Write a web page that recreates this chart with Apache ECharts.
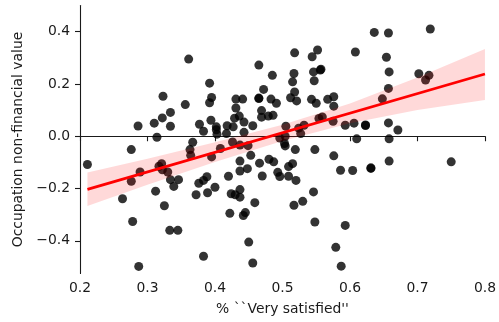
<!DOCTYPE html>
<html>
<head>
<meta charset="utf-8">
<script src="https://cdn.jsdelivr.net/npm/echarts@6/dist/echarts.min.js"></script>
<style>
  html, body { margin: 0; padding: 0; background: #fff; }
  #chart { width: 499px; height: 322px; }
</style>
</head>
<body>
<div id="chart"></div>
<script>
// scatter points
const pointsX = [
  0.361, 0.392, 0.323, 0.395, 0.392, 0.356, 0.334, 0.322, 0.310, 0.286,
  0.334, 0.377, 0.394, 0.383, 0.314, 0.367, 0.518, 0.552, 0.544, 0.465,
  0.485, 0.517, 0.515, 0.546, 0.556, 0.547, 0.472, 0.518, 0.431, 0.441,
  0.465, 0.483, 0.512, 0.521, 0.543, 0.567, 0.576, 0.491, 0.550, 0.576,
  0.431, 0.469, 0.429, 0.436, 0.443, 0.469, 0.479, 0.486, 0.402, 0.418,
  0.427, 0.456, 0.443, 0.403, 0.417, 0.505, 0.524, 0.527, 0.532, 0.504,
  0.554, 0.559, 0.575, 0.593, 0.503, 0.426, 0.636, 0.657, 0.719, 0.608,
  0.654, 0.658, 0.702, 0.717, 0.712, 0.657, 0.648, 0.606, 0.623, 0.657,
  0.671, 0.610, 0.658, 0.211, 0.276, 0.363, 0.364, 0.289, 0.276, 0.317,
  0.321, 0.322, 0.330, 0.334, 0.346, 0.339, 0.312, 0.263, 0.325, 0.376,
  0.383, 0.388, 0.372, 0.389, 0.395, 0.400, 0.278, 0.333, 0.345, 0.383,
  0.287, 0.408, 0.437, 0.449, 0.453, 0.437, 0.466, 0.480, 0.487, 0.420,
  0.437, 0.448, 0.470, 0.493, 0.496, 0.509, 0.515, 0.509, 0.520, 0.424,
  0.430, 0.437, 0.437, 0.459, 0.546, 0.530, 0.517, 0.422, 0.442, 0.445,
  0.548, 0.593, 0.450, 0.579, 0.456, 0.587, 0.504, 0.519, 0.548, 0.576,
  0.586, 0.658, 0.750, 0.604, 0.631, 0.402, 0.496, 0.557, 0.623, 0.631,
  0.465
];
const pointsY = [
  0.295, 0.203, 0.153, 0.148, 0.128, 0.121, 0.091, 0.070, 0.050, 0.039,
  0.038, 0.046, 0.061, 0.019, -0.004, -0.023, 0.319, 0.330, 0.304, 0.272,
  0.233, 0.240, 0.208, 0.246, 0.253, 0.212, 0.179, 0.169, 0.142, 0.142,
  0.144, 0.142, 0.147, 0.135, 0.141, 0.141, 0.151, 0.126, 0.126, 0.115,
  0.108, 0.098, 0.069, 0.077, 0.054, 0.073, 0.077, 0.080, 0.036, 0.040,
  0.036, 0.040, 0.015, 0.008, 0.010, 0.038, 0.031, 0.010, 0.042, 0.000,
  0.068, 0.074, 0.057, 0.042, -0.028, -0.022, 0.397, 0.395, 0.410, 0.322,
  0.302, 0.246, 0.239, 0.233, 0.215, 0.183, 0.143, 0.050, 0.041, 0.051,
  0.024, -0.010, -0.010, -0.108, -0.051, -0.051, -0.073, -0.137, -0.172, -0.115,
  -0.105, -0.128, -0.137, -0.166, -0.166, -0.192, -0.210, -0.239, -0.266, -0.180,
  -0.169, -0.155, -0.224, -0.216, -0.079, -0.195, -0.326, -0.360, -0.360, -0.459,
  -0.498, -0.047, -0.034, -0.036, -0.073, -0.095, -0.103, -0.088, -0.098, -0.153,
  -0.133, -0.124, -0.152, -0.138, -0.154, -0.116, -0.105, -0.153, -0.169, -0.220,
  -0.224, -0.204, -0.233, -0.254, -0.213, -0.249, -0.264, -0.295, -0.303, -0.292,
  -0.328, -0.341, -0.405, -0.425, -0.485, -0.497, -0.037, -0.051, -0.051, -0.075,
  -0.130, -0.095, -0.098, -0.131, -0.123, 0.025, -0.007, 0.256, 0.043, -0.121,
  0.146
];

// fitted line end points and confidence band edges
const lineX = [0.211, 0.8];
const lineY = [-0.203, 0.238];
const bandX = [0.211, 0.3, 0.4, 0.5, 0.6, 0.7, 0.8];
const bandLower = [-0.267, -0.186, -0.099, -0.018, 0.050, 0.100, 0.139];
const bandUpper = [-0.139, -0.086, -0.023, 0.044, 0.125, 0.225, 0.334];

const xTicks = [0.2, 0.3, 0.4, 0.5, 0.6, 0.7, 0.8];
const yTicks = [-0.4, -0.2, 0.0, 0.2, 0.4];

const font = "DejaVu Sans";
const ink = "#1a1a1a";
const fmt = (v) => (v < 0 ? "\u2212" : "") + Math.abs(v).toFixed(1);

const chart = echarts.init(document.getElementById("chart"));

chart.setOption({
  animation: false,
  backgroundColor: "#fff",
  grid: { left: 80, right: 10, top: 5.5, bottom: 48.5 },
  xAxis: {
    type: "value",
    min: 0.2,
    max: 0.8,
    name: "% ``Very satisfied''",
    nameLocation: "middle",
    nameGap: 29,
    nameTextStyle: { fontFamily: font, fontSize: 13.9, color: ink },
    axisLine: { lineStyle: { color: ink, width: 1.1 } },
    axisTick: { customValues: xTicks, length: 5, lineStyle: { color: ink, width: 1.1 } },
    axisLabel: { customValues: xTicks, formatter: fmt, margin: 8, fontFamily: font, fontSize: 13.9, color: ink },
    splitLine: { show: false },
  },
  yAxis: {
    type: "value",
    min: -0.525,
    max: 0.5,
    name: "Occupation non-financial value",
    nameLocation: "middle",
    nameRotate: 90,
    nameGap: 51,
    nameTextStyle: { fontFamily: font, fontSize: 13.9, color: ink },
    axisLine: { show: true, lineStyle: { color: ink, width: 1.1 } },
    axisTick: { show: true, customValues: yTicks, length: 5, lineStyle: { color: ink, width: 1.1 } },
    axisLabel: { customValues: yTicks, formatter: fmt, margin: 10, fontFamily: font, fontSize: 13.9, color: ink },
    splitLine: { show: false },
  },
  series: [
    {
      type: "scatter",
      z: 2,
      symbolSize: 9,
      itemStyle: { color: "#000", opacity: 0.8 },
      data: pointsX.map((x, i) => [x, pointsY[i]]),
    },
    {
      type: "custom",
      z: 3,
      clip: true,
      data: bandX.map((x, i) => [x, bandLower[i], bandUpper[i]]),
      renderItem: (params, api) => {
        if (params.dataIndex !== 0) return null;
        const pts = [];
        bandX.forEach((x, i) => pts.push(api.coord([x, bandUpper[i]])));
        for (let i = bandX.length - 1; i >= 0; i--) pts.push(api.coord([bandX[i], bandLower[i]]));
        return {
          type: "polygon",
          shape: { points: pts },
          style: { fill: "rgba(255,0,0,0.15)" },
        };
      },
    },
    {
      type: "line",
      z: 4,
      showSymbol: false,
      lineStyle: { color: "#ff0000", width: 2.8 },
      data: lineX.map((x, i) => [x, lineY[i]]),
    },
  ],
});
</script>
</body>
</html>
